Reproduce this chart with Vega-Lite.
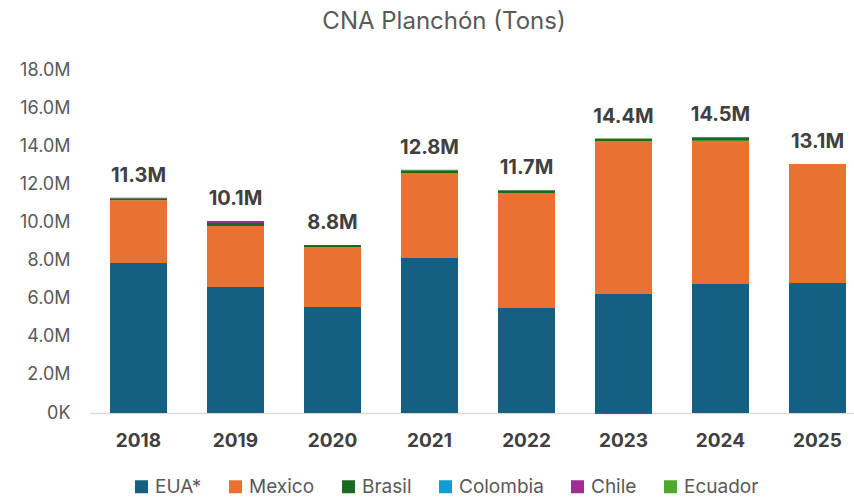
{
  "$schema": "https://vega.github.io/schema/vega-lite/v6.json",
  "autosize": "none",
  "width": 776,
  "height": 343,
  "padding": {"left": 90, "top": 70, "right": 0, "bottom": 85},
  "background": "white",
  "config": {
    "font": "Inter",
    "view": {"stroke": null},
    "axisY": {
      "labelFontSize": 18, "labelColor": "#595959", "grid": false, "domain": false,
      "ticks": false, "tickSize": 0, "labelPadding": 20, "labelOverlap": false,
      "labelBound": false, "labelFlush": false
    }
  },
  "title": {
    "text": "CNA Planchón (Tons)",
    "fontSize": 24,
    "fontWeight": "normal",
    "color": "#595959",
    "anchor": "middle",
    "dx": -34,
    "offset": 27
  },
  "data": {
    "values": [
      {"year": "2018", "country": "EUA*", "value": 7870000},
      {"year": "2018", "country": "Mexico", "value": 3300000},
      {"year": "2018", "country": "Brasil", "value": 100000},
      {"year": "2018", "country": "Chile", "value": 20000},
      {"year": "2019", "country": "EUA*", "value": 6610000},
      {"year": "2019", "country": "Mexico", "value": 3200000},
      {"year": "2019", "country": "Brasil", "value": 160000},
      {"year": "2019", "country": "Chile", "value": 100000},
      {"year": "2020", "country": "EUA*", "value": 5560000},
      {"year": "2020", "country": "Mexico", "value": 3150000},
      {"year": "2020", "country": "Brasil", "value": 100000},
      {"year": "2021", "country": "EUA*", "value": 8130000},
      {"year": "2021", "country": "Mexico", "value": 4460000},
      {"year": "2021", "country": "Brasil", "value": 150000},
      {"year": "2021", "country": "Ecuador", "value": 30000},
      {"year": "2022", "country": "EUA*", "value": 5510000},
      {"year": "2022", "country": "Mexico", "value": 6030000},
      {"year": "2022", "country": "Brasil", "value": 150000},
      {"year": "2023", "country": "EUA*", "value": 6240000},
      {"year": "2023", "country": "Mexico", "value": 8030000},
      {"year": "2023", "country": "Brasil", "value": 120000},
      {"year": "2023", "country": "Ecuador", "value": 30000},
      {"year": "2023", "country": "Chile", "value": -50000},
      {"year": "2024", "country": "EUA*", "value": 6770000},
      {"year": "2024", "country": "Mexico", "value": 7520000},
      {"year": "2024", "country": "Brasil", "value": 180000},
      {"year": "2025", "country": "EUA*", "value": 6820000},
      {"year": "2025", "country": "Mexico", "value": 6250000}
    ]
  },
  "layer": [
    {
      "transform": [
        {"calculate": "indexof(['EUA*','Mexico','Brasil','Colombia','Chile','Ecuador'], datum.country)", "as": "ord"}
      ],
      "mark": {"type": "bar", "width": 57},
      "encoding": {
        "x": {
          "field": "year", "type": "nominal",
          "axis": {
            "title": null, "labelAngle": 0, "labelFontSize": 19, "labelFontWeight": "bold",
            "labelColor": "#404040", "ticks": false, "tickSize": 0, "labelPadding": 18,
            "domain": true, "domainColor": "#d9d9d9", "domainWidth": 1.5
          }
        },
        "y": {
          "field": "value", "type": "quantitative", "stack": "zero",
          "scale": {"domain": [0, 18000000], "nice": false},
          "axis": {
            "title": null, "values": [0,2000000,4000000,6000000,8000000,10000000,12000000,14000000,16000000,18000000],
            "labelExpr": "datum.value == 0 ? '0K' : format(datum.value/1000000, '.1f') + 'M'",
            "labelOverlap": false
          }
        },
        "color": {
          "field": "country", "type": "nominal",
          "scale": {
            "domain": ["EUA*", "Mexico", "Brasil", "Colombia", "Chile", "Ecuador"],
            "range": ["#156082", "#E97132", "#196B24", "#0F9ED5", "#A02B93", "#4EA72E"]
          },
          "legend": {
            "title": null, "orient": "none", "direction": "horizontal",
            "legendX": 42, "legendY": 407,
            "symbolType": "square", "symbolSize": 169, "symbolStrokeWidth": 0,
            "labelFontSize": 19, "labelColor": "#595959", "columnPadding": 24, "labelOffset": 4
          }
        },
        "order": {"field": "ord", "type": "quantitative"}
      }
    },
    {
      "transform": [
        {"aggregate": [{"op": "sum", "field": "value", "as": "total"}], "groupby": ["year"]},
        {"calculate": "format(datum.total/1000000, '.1f') + 'M'", "as": "label"}
      ],
      "mark": {"type": "text", "fontSize": 20, "fontWeight": "bold", "color": "#404040", "baseline": "alphabetic", "dy": -16},
      "encoding": {
        "x": {"field": "year", "type": "nominal"},
        "y": {"field": "total", "type": "quantitative", "axis": {"title": null, "values": [0,2000000,4000000,6000000,8000000,10000000,12000000,14000000,16000000,18000000], "labelExpr": "datum.value == 0 ? '0K' : format(datum.value/1000000, '.1f') + 'M'", "labelOverlap": false}},
        "text": {"field": "label"}
      }
    }
  ]
}
